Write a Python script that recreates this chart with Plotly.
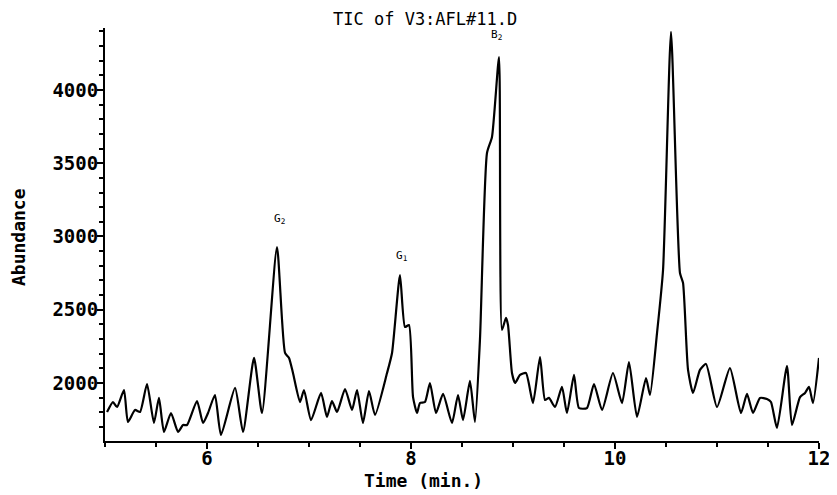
import plotly.graph_objects as go

# Retention time (min) and total ion current abundance
time_min = [5.02, 5.078, 5.118, 5.186, 5.225, 5.294, 5.343, 5.412, 5.480, 5.529,
            5.578, 5.647, 5.716, 5.765, 5.804, 5.902, 5.961, 6.010, 6.078, 6.137,
            6.275, 6.353, 6.461, 6.539, 6.686, 6.765, 6.804, 6.843, 6.912, 6.951,
            7.020, 7.118, 7.176, 7.225, 7.275, 7.353, 7.422, 7.471, 7.529, 7.588,
            7.647, 7.765, 7.814, 7.892, 7.941, 7.980, 8.020, 8.059, 8.088, 8.137,
            8.186, 8.245, 8.314, 8.402, 8.461, 8.510, 8.578, 8.627, 8.676, 8.745,
            8.794, 8.863, 8.892, 8.931, 8.951, 8.990, 9.020, 9.069, 9.127, 9.196,
            9.265, 9.314, 9.353, 9.412, 9.480, 9.529, 9.598, 9.647, 9.725, 9.794,
            9.873, 9.980, 10.069, 10.137, 10.216, 10.304, 10.343, 10.412, 10.471, 10.549,
            10.637, 10.667, 10.716, 10.765, 10.833, 10.892, 11.000, 11.127, 11.235, 11.294,
            11.353, 11.422, 11.490, 11.529, 11.588, 11.686, 11.735, 11.814, 11.863, 11.902,
            11.941, 12.0]
abundance = [1802, 1870, 1836, 1952, 1734, 1816, 1802, 1993, 1727, 1898,
             1666, 1795, 1666, 1713, 1713, 1877, 1727, 1795, 1918, 1645,
             1966, 1666, 2171, 1795, 2928, 2205, 2171, 2068, 1870, 1952,
             1747, 1932, 1768, 1877, 1802, 1959, 1816, 1952, 1727, 1945,
             1782, 2068, 2205, 2737, 2382, 2396, 1904, 1795, 1863, 1870,
             2000, 1795, 1925, 1727, 1918, 1747, 2014, 1734, 2294, 3570,
             3679, 4225, 2362, 2444, 2396, 2068, 2000, 2055, 2068, 1863,
             2177, 1884, 1898, 1836, 1973, 1795, 2055, 1829, 1829, 1993,
             1816, 2068, 1863, 2143, 1768, 2034, 1918, 2341, 2771, 4396,
             2751, 2683, 2089, 1932, 2089, 2130, 1836, 2102, 1795, 1925,
             1795, 1898, 1891, 1870, 1693, 2116, 1713, 1904, 1932, 1973,
             1863, 2171]

# Peak labels
peak_names = ["G<sub>2</sub>", "G<sub>1</sub>", "B<sub>2</sub>", "B<sub>1</sub>"]
peak_times = [6.686, 7.892, 8.863, 10.549]
peak_heights = [2928, 2737, 4225, 4396]

x_ticks = [6, 8, 10, 12]
y_ticks = [2000, 2500, 3000, 3500, 4000]

mono = "DejaVu Sans Mono"

# plot area in page pixels (page has an 8px body margin)
PL, PR, PT, PB = 105, 819, 28, 441
W, H = PR - PL, PB - PT

fig = go.Figure()
fig.add_trace(go.Scatter(
    x=time_min, y=abundance, mode="lines",
    line=dict(color="black", width=2.2, shape="spline", smoothing=0.55),
    showlegend=False, hoverinfo="x+y"))

label_dx = [0.02, 0.02, -0.02, 0.14]
label_dy = [190, 130, 150, 120]
for name, t, h, dx, dy in zip(peak_names, peak_times, peak_heights, label_dx, label_dy):
    fig.add_annotation(x=t + dx, y=h + dy, xref="x", yref="y", text=name,
                       xanchor="center", yanchor="middle",
                       showarrow=False, font=dict(family=mono, size=11, color="black"))

fig.add_annotation(text="TIC of V3:AFL#11.D", xref="paper", yref="paper",
                   x=(425 - PL) / W, y=1 + (PT - 19) / H, showarrow=False,
                   xanchor="center", yanchor="middle",
                   font=dict(family=mono, size=17, color="black"))
fig.add_annotation(text="Abundance", xref="paper", yref="paper",
                   x=(19 - PL) / W, y=(PB - 237) / H, showarrow=False, textangle=-90,
                   xanchor="center", yanchor="middle",
                   font=dict(family=mono, size=18, color="black", weight="bold"))
fig.add_annotation(text="Time (min.)", xref="paper", yref="paper",
                   x=(423 - PL) / W, y=-(481 - PB) / H, showarrow=False,
                   xanchor="center", yanchor="middle",
                   font=dict(family=mono, size=18, color="black", weight="bold"))

fig.update_layout(
    width=837, height=495,
    margin=dict(l=PL - 8, r=837 - (PR - 8), t=PT - 8, b=495 - (PB - 8), autoexpand=False),
    paper_bgcolor="white", plot_bgcolor="white",
    font=dict(family=mono, color="black"),
)
fig.update_xaxes(
    range=[5.0, 12.0], showgrid=False, zeroline=False, automargin=False,
    showline=True, linecolor="black", linewidth=2,
    ticks="outside", ticklen=6, tickwidth=2, tickcolor="black",
    tickvals=x_ticks, ticktext=[str(v) for v in x_ticks],
    ticklabelstandoff=-7,
    tickfont=dict(family=mono, size=19, color="black", weight="bold"),
    minor=dict(dtick=0.5, ticks="outside", ticklen=4, tickwidth=1.5, tickcolor="black"),
)
fig.update_yaxes(
    range=[1604, 4423], showgrid=False, zeroline=False, automargin=False,
    showline=True, linecolor="black", linewidth=2,
    ticks="outside", ticklen=6, tickwidth=2, tickcolor="black",
    tickvals=y_ticks, ticktext=[str(v) for v in y_ticks],
    ticklabelstandoff=-5,
    tickfont=dict(family=mono, size=19, color="black", weight="bold"),
    minor=dict(dtick=100, tick0=0, ticks="outside", ticklen=4, tickwidth=1.5, tickcolor="black"),
)

fig.write_html("out.html")
